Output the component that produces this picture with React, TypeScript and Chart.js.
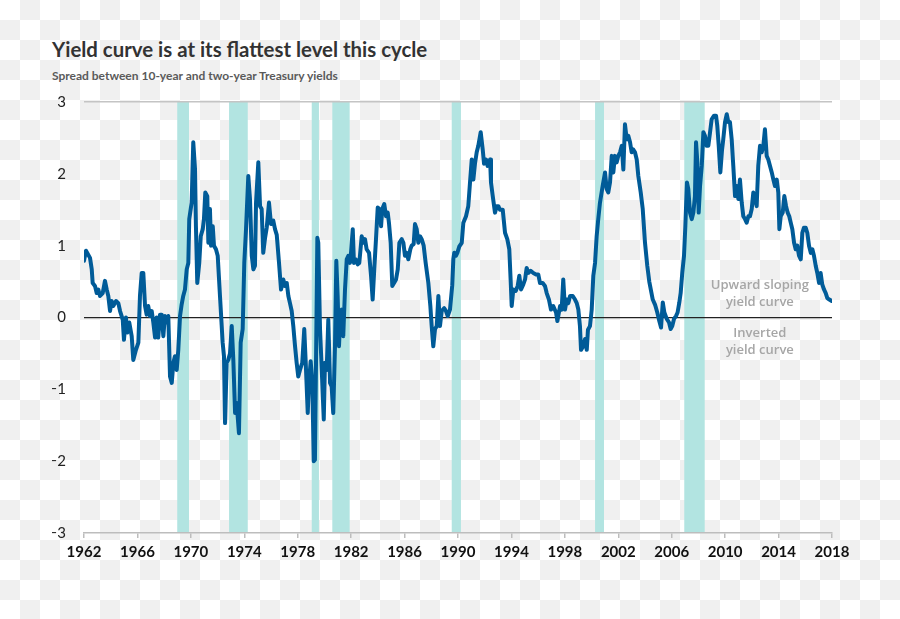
import { useEffect, useRef } from "react";
import { Chart, registerables } from "chart.js";

Chart.register(...registerables);

const titleText = "Yield curve is at its flattest level this cycle";
const subtitleText = "Spread between 10-year and two-year Treasury yields";

const xTicks = [1962, 1966, 1970, 1974, 1978, 1982, 1986, 1990, 1994, 1998, 2002, 2006, 2010, 2014, 2018];
const yTicks = [-3, -2, -1, 0, 1, 2, 3];

const recessionStart = [1968.98, 1972.86, 1979.05, 1980.59, 1989.53, 2000.26, 2006.94];
const recessionEnd = [1969.86, 1974.26, 1979.59, 1981.89, 1990.22, 2000.93, 2008.47];

const upperNote = ["Upward sloping", "yield curve"];
const lowerNote = ["Inverted", "yield curve"];

const dates = [
  1962.00, 1962.15, 1962.45, 1962.58, 1962.65, 1962.82, 1962.95, 1963.07, 1963.20, 1963.40,
  1963.57, 1963.70, 1963.82, 1963.95, 1964.07, 1964.19, 1964.40, 1964.57, 1964.70, 1964.90,
  1964.99, 1965.14, 1965.24, 1965.39, 1965.57, 1965.69, 1965.89, 1966.07, 1966.19, 1966.32,
  1966.44, 1966.57, 1966.69, 1966.81, 1966.94, 1967.07, 1967.19, 1967.32, 1967.44, 1967.56,
  1967.69, 1967.82, 1967.94, 1968.06, 1968.19, 1968.31, 1968.44, 1968.57, 1968.69, 1968.81,
  1968.94, 1969.06, 1969.19, 1969.31, 1969.43, 1969.56, 1969.69, 1969.81, 1969.88, 1970.06,
  1970.18, 1970.31, 1970.38, 1970.48, 1970.63, 1970.74, 1970.89, 1970.98, 1971.08, 1971.23,
  1971.31, 1971.43, 1971.51, 1971.64, 1971.73, 1971.88, 1972.01, 1972.18, 1972.31, 1972.38,
  1972.48, 1972.56, 1972.68, 1972.80, 1972.93, 1973.06, 1973.18, 1973.31, 1973.43, 1973.60,
  1973.73, 1973.88, 1974.00, 1974.13, 1974.30, 1974.43, 1974.56, 1974.68, 1974.80, 1974.88,
  1975.05, 1975.18, 1975.30, 1975.42, 1975.55, 1975.68, 1975.85, 1976.00, 1976.17, 1976.30,
  1976.43, 1976.60, 1976.75, 1976.92, 1977.05, 1977.18, 1977.30, 1977.42, 1977.55, 1977.67,
  1977.80, 1977.92, 1978.04, 1978.17, 1978.34, 1978.49, 1978.60, 1978.75, 1978.84, 1978.97,
  1979.09, 1979.20, 1979.29, 1979.37, 1979.47, 1979.54, 1979.67, 1979.80, 1979.95, 1980.04,
  1980.17, 1980.29, 1980.42, 1980.54, 1980.66, 1980.79, 1980.89, 1980.99, 1981.09, 1981.19,
  1981.29, 1981.41, 1981.54, 1981.67, 1981.79, 1981.91, 1981.99, 1982.12, 1982.21, 1982.34,
  1982.49, 1982.61, 1982.79, 1982.91, 1983.04, 1983.16, 1983.34, 1983.49, 1983.61, 1983.73,
  1983.86, 1983.99, 1984.11, 1984.24, 1984.33, 1984.48, 1984.61, 1984.74, 1984.83, 1984.96,
  1985.08, 1985.21, 1985.36, 1985.49, 1985.61, 1985.79, 1985.91, 1986.03, 1986.16, 1986.28,
  1986.43, 1986.53, 1986.68, 1986.78, 1986.91, 1987.03, 1987.16, 1987.28, 1987.43, 1987.58,
  1987.78, 1987.93, 1988.03, 1988.15, 1988.28, 1988.41, 1988.53, 1988.65, 1988.78, 1988.97,
  1989.10, 1989.23, 1989.40, 1989.57, 1989.65, 1989.72, 1989.85, 1989.95, 1990.10, 1990.28,
  1990.40, 1990.60, 1990.77, 1990.90, 1991.03, 1991.15, 1991.27, 1991.40, 1991.52, 1991.70,
  1991.85, 1991.95, 1992.10, 1992.22, 1992.40, 1992.47, 1992.60, 1992.77, 1992.90, 1993.02,
  1993.14, 1993.35, 1993.52, 1993.69, 1993.84, 1993.95, 1994.02, 1994.14, 1994.32, 1994.47,
  1994.59, 1994.72, 1994.89, 1995.02, 1995.14, 1995.26, 1995.44, 1995.64, 1995.84, 1996.01,
  1996.14, 1996.34, 1996.51, 1996.64, 1996.81, 1996.96, 1997.13, 1997.34, 1997.44, 1997.64,
  1997.76, 1997.88, 1998.01, 1998.14, 1998.26, 1998.39, 1998.59, 1998.76, 1998.89, 1999.01,
  1999.13, 1999.21, 1999.38, 1999.51, 1999.64, 1999.73, 1999.88, 2000.01, 2000.13, 2000.26,
  2000.38, 2000.50, 2000.63, 2000.83, 2001.01, 2001.13, 2001.25, 2001.38, 2001.51, 2001.63,
  2001.75, 2001.88, 2002.00, 2002.13, 2002.26, 2002.38, 2002.50, 2002.63, 2002.75, 2002.88,
  2003.00, 2003.12, 2003.25, 2003.38, 2003.50, 2003.68, 2003.83, 2004.00, 2004.17, 2004.32,
  2004.58, 2004.75, 2004.92, 2005.07, 2005.20, 2005.33, 2005.45, 2005.63, 2005.80, 2005.92,
  2006.04, 2006.17, 2006.32, 2006.44, 2006.57, 2006.67, 2006.79, 2006.92, 2007.02, 2007.14,
  2007.24, 2007.37, 2007.50, 2007.62, 2007.74, 2007.82, 2007.92, 2008.02, 2008.12, 2008.25,
  2008.37, 2008.49, 2008.62, 2008.74, 2008.87, 2008.99, 2009.17, 2009.32, 2009.41, 2009.52,
  2009.64, 2009.77, 2009.86, 2009.99, 2010.12, 2010.24, 2010.36, 2010.49, 2010.61, 2010.74,
  2010.87, 2010.99, 2011.11, 2011.24, 2011.36, 2011.49, 2011.61, 2011.74, 2011.86, 2011.99,
  2012.11, 2012.24, 2012.36, 2012.48, 2012.61, 2012.74, 2012.86, 2012.98, 2013.11, 2013.23,
  2013.36, 2013.49, 2013.61, 2013.73, 2013.86, 2013.98, 2014.06, 2014.16, 2014.31, 2014.43,
  2014.56, 2014.68, 2014.80, 2014.91, 2015.03, 2015.16, 2015.28, 2015.40, 2015.53, 2015.66,
  2015.78, 2015.90, 2016.03, 2016.15, 2016.28, 2016.41, 2016.53, 2016.65, 2016.78, 2016.90,
  2017.03, 2017.15, 2017.27, 2017.40, 2017.53, 2017.65, 2017.80, 2017.98,
];

const spread = [
  0.79, 0.93, 0.83, 0.67, 0.48, 0.44, 0.34, 0.39, 0.30, 0.34,
  0.51, 0.39, 0.30, 0.09, 0.23, 0.16, 0.23, 0.20, 0.09, -0.03,
  -0.31, 0.00, -0.21, -0.07, -0.26, -0.59, -0.45, -0.35, 0.30, 0.62,
  0.62, 0.16, 0.04, 0.16, 0.02, 0.09, -0.07, -0.28, 0.00, -0.28,
  0.04, 0.04, -0.26, 0.02, -0.07, 0.02, -0.82, -0.91, -0.63, -0.54,
  -0.73, -0.45, 0.02, 0.18, 0.30, 0.39, 0.67, 0.76, 1.37, 1.60,
  2.44, 2.07, 1.27, 0.48, 0.76, 1.13, 1.23, 1.37, 1.74, 1.69,
  1.04, 1.51, 1.00, 1.27, 1.00, 0.95, 0.86, 0.30, -0.12, -0.35,
  -0.54, -1.47, -0.63, -0.59, -0.50, -0.12, -0.59, -1.33, -1.19, -1.61,
  -0.35, -0.16, 0.76, 1.23, 1.97, 1.64, 0.86, 0.67, 0.72, 1.60,
  2.16, 1.55, 1.51, 0.90, 1.10, 1.25, 1.60, 1.30, 1.35, 1.23,
  1.15, 0.76, 0.39, 0.53, 0.44, 0.48, 0.30, 0.20, 0.09, -0.12,
  -0.40, -0.63, -0.82, -0.73, -0.63, -0.16, -0.63, -1.33, -0.91, -0.61,
  -0.87, -2.00, -1.98, -0.63, 1.11, 1.04, -0.16, -0.73, -1.42, -0.63,
  -0.73, -0.03, -0.91, -0.96, -1.33, -0.40, 0.79, 0.30, -0.40, 0.02,
  0.11, -0.26, 0.39, 0.81, 0.86, 0.76, 0.90, 1.23, 0.76, 0.81,
  0.74, 0.76, 1.13, 1.04, 1.09, 0.95, 0.90, 0.58, 0.25, 0.67,
  1.09, 1.53, 1.51, 1.27, 1.51, 1.58, 1.41, 1.46, 1.32, 1.04,
  0.44, 0.48, 0.53, 0.67, 1.04, 1.09, 1.04, 0.86, 0.90, 0.81,
  0.95, 1.00, 1.02, 1.30, 1.23, 1.04, 1.13, 1.09, 1.00, 0.76,
  0.48, 0.16, -0.12, -0.40, -0.16, -0.12, 0.30, -0.12, 0.09, 0.13,
  0.09, 0.02, 0.11, 0.45, 0.81, 0.90, 0.86, 0.90, 0.99, 1.04,
  1.32, 1.41, 1.55, 1.88, 2.20, 1.92, 2.14, 2.30, 2.39, 2.58,
  2.34, 2.14, 2.20, 2.11, 2.20, 1.88, 1.69, 1.46, 1.55, 1.55,
  1.50, 1.50, 1.18, 1.09, 0.95, 0.48, 0.16, 0.39, 0.37, 0.44,
  0.58, 0.39, 0.46, 0.53, 0.69, 0.62, 0.65, 0.62, 0.60, 0.60,
  0.48, 0.48, 0.44, 0.34, 0.25, 0.11, 0.16, 0.07, -0.05, 0.16,
  0.11, 0.53, 0.11, 0.25, 0.20, 0.30, 0.30, 0.25, 0.20, 0.11,
  -0.12, -0.45, -0.40, -0.30, -0.45, -0.17, -0.12, 0.11, 0.58, 0.76,
  1.13, 1.37, 1.60, 1.83, 2.02, 1.79, 1.74, 1.88, 2.25, 2.02,
  2.25, 2.16, 2.25, 2.30, 2.39, 2.06, 2.69, 2.48, 2.53, 2.44,
  2.30, 2.34, 2.30, 2.20, 1.97, 1.74, 1.51, 1.04, 0.72, 0.50,
  0.25, 0.18, 0.07, -0.05, -0.14, 0.21, 0.07, -0.02, -0.07, -0.16,
  -0.12, -0.02, 0.02, 0.07, 0.21, 0.34, 0.62, 0.86, 1.27, 1.88,
  1.79, 1.46, 1.37, 1.46, 1.69, 2.44, 2.16, 1.46, 1.83, 2.11,
  2.58, 2.53, 2.39, 2.39, 2.58, 2.76, 2.81, 2.81, 2.67, 2.39,
  2.02, 2.34, 2.48, 2.72, 2.83, 2.72, 2.72, 2.48, 2.11, 1.69,
  1.83, 1.65, 1.92, 1.60, 1.41, 1.37, 1.32, 1.41, 1.41, 1.51,
  1.74, 1.65, 1.55, 2.11, 2.39, 2.30, 2.39, 2.62, 2.25, 2.20,
  2.11, 2.02, 1.92, 1.83, 1.92, 1.74, 1.23, 1.41, 1.46, 1.69,
  1.55, 1.46, 1.41, 1.32, 1.23, 1.04, 0.95, 1.00, 0.86, 0.81,
  1.18, 1.25, 1.25, 1.18, 1.00, 0.90, 0.95, 0.86, 0.72, 0.62,
  0.48, 0.62, 0.46, 0.39, 0.34, 0.27, 0.25, 0.23,
];

const recessionPlugin = {
  id: "recessions",
  beforeDraw(chart: any) {
    const { ctx, chartArea, scales } = chart;
    const x = scales.x;
    ctx.save();
    ctx.fillStyle = "#b2e4e1";
    recessionStart.forEach((s, i) => {
      const x0 = x.getPixelForValue(s);
      const x1 = x.getPixelForValue(recessionEnd[i]);
      ctx.fillRect(x0, chartArea.top, x1 - x0, chartArea.bottom - chartArea.top);
    });
    ctx.restore();
  },
};

const notePlugin = {
  id: "notes",
  afterDatasetsDraw(chart: any) {
    const { ctx, scales } = chart;
    const cx = scales.x.getPixelForValue(2012.6);
    ctx.save();
    ctx.font = '600 13px "Open Sans"';
    ctx.fillStyle = "#a6a6a6";
    ctx.textAlign = "center";
    ctx.textBaseline = "alphabetic";
    const upY = scales.y.getPixelForValue(0.4);
    upperNote.forEach((t, i) => ctx.fillText(t, cx, upY + i * 17.4));
    const loY = scales.y.getPixelForValue(-0.27);
    lowerNote.forEach((t, i) => ctx.fillText(t, cx, loY + i * 17));
    ctx.restore();
  },
};

export default function App() {
  const canvasRef = useRef<HTMLCanvasElement | null>(null);

  useEffect(() => {
    const canvas = canvasRef.current;
    if (!canvas) return;
    const points = dates.map((d, i) => ({ x: d, y: spread[i] }));
    const chart = new Chart(canvas, {
      type: "line",
      data: {
        datasets: [
          {
            data: points,
            borderColor: "#005b98",
            borderWidth: 4,
            pointRadius: 0,
            tension: 0,
            borderJoinStyle: "round",
            borderCapStyle: "round",
            fill: false,
          },
        ],
      },
      options: {
        animation: false,
        responsive: false,
        devicePixelRatio: 1,
        layout: { padding: { left: 52, right: 68, top: 102, bottom: 0 } },
        plugins: {
          legend: { display: false },
          tooltip: { enabled: false },
          title: { display: false },
        },
        scales: {
          x: {
            type: "linear",
            min: 1962,
            max: 2018,
            afterBuildTicks: (scale: any) => {
              scale.ticks = xTicks.map((value) => ({ value }));
            },
            afterFit: (scale: any) => {
              scale.height = 86;
            },
            grid: {
              display: true,
              drawOnChartArea: false,
              drawTicks: true,
              tickLength: 5,
              color: "#bdbdbd",
              lineWidth: 1.5,
            },
            border: { display: true, color: "#bdbdbd", width: 1.5 },
            ticks: {
              autoSkip: false,
              maxRotation: 0,
              padding: 5,
              color: "#111",
              font: { family: "Lato", size: 15, weight: "bold" },
              callback: (v: any) => String(v),
            },
          },
          y: {
            type: "linear",
            min: -3,
            max: 3,
            afterBuildTicks: (scale: any) => {
              scale.ticks = yTicks.map((value) => ({ value }));
            },
            afterFit: (scale: any) => {
              scale.width = 32;
            },
            grid: {
              drawTicks: false,
              color: (c: any) =>
                c.tick && c.tick.value === 0 ? "#222" : c.tick && c.tick.value === 3 ? "#c4c4c4" : "rgba(0,0,0,0)",
              lineWidth: (c: any) => (c.tick && c.tick.value === 0 ? 1.3 : 1.5),
            },
            border: { display: false },
            ticks: {
              padding: 18,
              color: "#222",
              font: { family: "Lato", size: 15 },
              callback: (v: any) => (v < 0 ? "\u2212" + Math.abs(v) : String(v)),
            },
          },
        },
      },
      plugins: [recessionPlugin, notePlugin],
    });
    return () => chart.destroy();
  }, []);

  return (
    <div
      style={{
        position: "absolute",
        left: 0,
        top: 0,
        width: 900,
        height: 619,
        backgroundColor: "#ffffff",
        backgroundImage: "conic-gradient(#f0f0f0 25%, #ffffff 0 50%, #f0f0f0 0 75%, #ffffff 0)",
        backgroundSize: "40px 40px",
      }}
    >
      <div
        style={{
          position: "absolute",
          left: 52,
          top: 39,
          font: "700 20.4px Lato",
          lineHeight: "20.4px",
          color: "#333333",
          whiteSpace: "nowrap",
        }}
      >
        {titleText}
      </div>
      <div
        style={{
          position: "absolute",
          left: 52,
          top: 70,
          font: "700 12px Lato",
          lineHeight: "12px",
          color: "#5a5a5a",
          whiteSpace: "nowrap",
        }}
      >
        {subtitleText}
      </div>
      <canvas
        ref={canvasRef}
        width={900}
        height={619}
        style={{ position: "absolute", left: 0, top: 0, width: 900, height: 619 }}
      />
    </div>
  );
}
